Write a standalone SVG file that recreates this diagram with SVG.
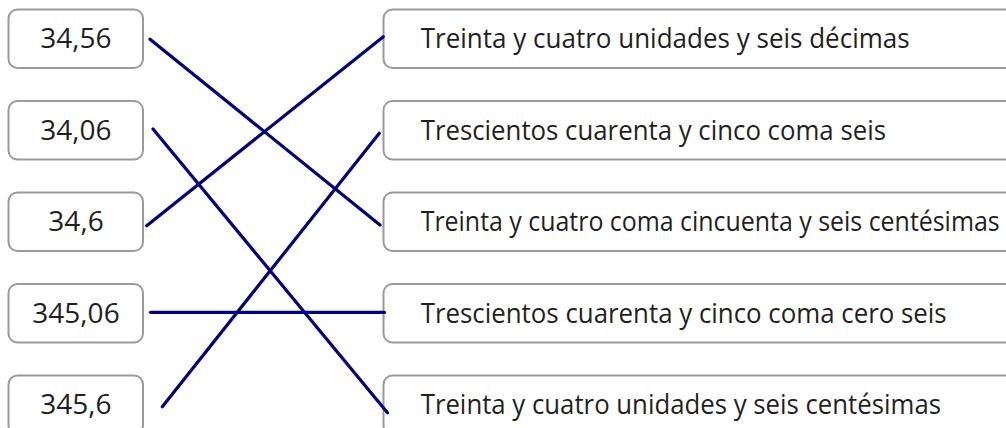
<svg xmlns="http://www.w3.org/2000/svg" width="1006" height="428" viewBox="0 0 1006 428">
<style>
.box{fill:#fff;stroke:#9a9a9a;stroke-width:2}
.num{font-family:"Open Sans","DejaVu Sans",sans-serif;font-size:28px;fill:#231f20;text-anchor:middle}
.lbl{font-family:"Open Sans","DejaVu Sans",sans-serif;font-size:28px;fill:#231f20}
.ln{stroke:#000080;stroke-width:3.2;stroke-linecap:round;fill:none}
</style>
<rect width="1006" height="428" fill="#fff"/>
<g id="n1"><rect class="box" x="8.5" y="9.5" width="134.5" height="58.5" rx="9"/><text class="num" x="76" y="48.3">34,56</text></g>
<g id="n2"><rect class="box" x="8.5" y="101" width="134.5" height="58.5" rx="9"/><text class="num" x="76" y="139.8">34,06</text></g>
<g id="n3"><rect class="box" x="8.5" y="192.5" width="134.5" height="58.5" rx="9"/><text class="num" x="76" y="231.3">34,6</text></g>
<g id="n4"><rect class="box" x="8.5" y="284" width="134.5" height="58.5" rx="9"/><text class="num" x="76" y="322.8">345,06</text></g>
<g id="n5"><rect class="box" x="8.5" y="375.5" width="134.5" height="58.5" rx="9"/><text class="num" x="76" y="414.3">345,6</text></g>
<g id="r1"><rect class="box" x="383.5" y="9.5" width="640" height="58.5" rx="9"/><text class="lbl" x="420.7" y="48.3" textLength="489" lengthAdjust="spacingAndGlyphs">Treinta y cuatro unidades y seis décimas</text></g>
<g id="r2"><rect class="box" x="383.5" y="101" width="640" height="58.5" rx="9"/><text class="lbl" x="420.7" y="139.8" textLength="465.3" lengthAdjust="spacingAndGlyphs">Trescientos cuarenta y cinco coma seis</text></g>
<g id="r3"><rect class="box" x="383.5" y="192.5" width="640" height="58.5" rx="9"/><text class="lbl" x="420.7" y="231.3" textLength="579" lengthAdjust="spacingAndGlyphs">Treinta y cuatro coma cincuenta y seis centésimas</text></g>
<g id="r4"><rect class="box" x="383.5" y="284" width="640" height="58.5" rx="9"/><text class="lbl" x="420.7" y="322.8" textLength="526" lengthAdjust="spacingAndGlyphs">Trescientos cuarenta y cinco coma cero seis</text></g>
<g id="r5"><rect class="box" x="383.5" y="375.5" width="640" height="58.5" rx="9"/><text class="lbl" x="420.7" y="414.3" textLength="520.3" lengthAdjust="spacingAndGlyphs">Treinta y cuatro unidades y seis centésimas</text></g>
<g id="connectors">
<line class="ln" x1="150" y1="39.3" x2="380" y2="225"/>
<line class="ln" x1="153" y1="129" x2="387.5" y2="412.7"/>
<line class="ln" x1="146.7" y1="225.7" x2="383.3" y2="36.7"/>
<line class="ln" x1="150.5" y1="312.3" x2="384.5" y2="312.3"/>
<line class="ln" x1="162.3" y1="406.7" x2="379.3" y2="133.3"/>
</g>
</svg>
